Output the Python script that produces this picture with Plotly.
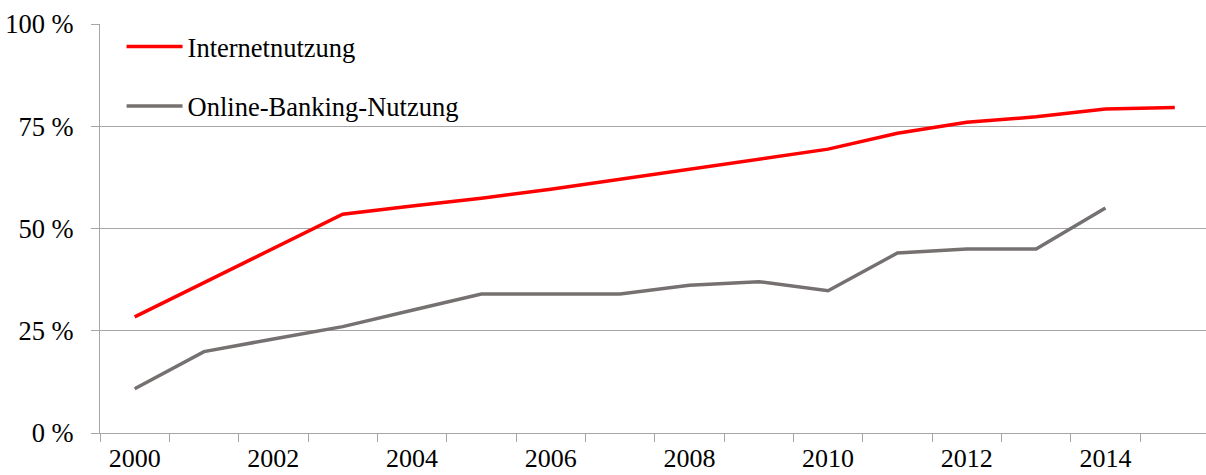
import plotly.graph_objects as go

years = list(range(2000, 2016))
internet = [28.4, 36.8, 45.2, 53.5, 55.5, 57.4, 59.6, 62.0, 64.5, 67.0, 69.4, 73.3, 76.0, 77.3, 79.2, 79.6]
banking_years = list(range(2000, 2015))
banking = [10.8, 19.9, 23.0, 26.0, 30.0, 34.0, 34.0, 34.0, 36.1, 37.0, 34.8, 44.0, 45.0, 45.0, 55.0]

y_ticks = [0, 25, 50, 75, 100]
y_labels = ["0 %", "25 %", "50 %", "75 %", "100 %"]
x_label_years = [2000, 2002, 2004, 2006, 2008, 2010, 2012, 2014]

FONT = "Liberation Serif, Times New Roman, serif"
GRID = "#a6a6a6"
x_range = [1999.5, 2015.45]

fig = go.Figure()
fig.add_trace(go.Scatter(
    x=years, y=internet, mode="lines", name="Internetnutzung",
    line=dict(color="#ff0000", width=3.5), legendgroup="a",
))
fig.add_trace(go.Scatter(
    x=banking_years, y=banking, mode="lines", name="Online-Banking-Nutzung",
    line=dict(color="#767171", width=3.5), legendgroup="b",
))

fig.update_layout(
    width=1206, height=475,
    margin=dict(l=100, r=0, t=24, b=42),
    paper_bgcolor="white", plot_bgcolor="white",
    font=dict(family=FONT, size=26.5, color="black"),
    showlegend=True,
    legend=dict(
        x=0.0195, y=1.003, xanchor="left", yanchor="top",
        bgcolor="rgba(0,0,0,0)", font=dict(size=26.5),
        tracegroupgap=22, itemwidth=56,
    ),
    xaxis=dict(
        range=x_range, automargin=False,
        tickvals=[y + 0.5 for y in range(1999, 2015)],
        ticktext=[""] * 16,
        ticks="outside", ticklen=8, tickcolor=GRID, tickwidth=1,
        showgrid=False, showline=True, linecolor=GRID, linewidth=1,
        zeroline=False,
    ),
    xaxis2=dict(
        range=x_range, overlaying="x", side="bottom", automargin=False,
        tickvals=x_label_years, ticktext=[str(y) for y in x_label_years],
        ticks="", showgrid=False, showline=False, zeroline=False,
        tickfont=dict(size=26), ticklabelstandoff=7,
    ),
    yaxis=dict(
        range=[0, 100], tickvals=y_ticks, ticktext=y_labels, automargin=False,
        ticks="outside", ticklen=8, tickcolor=GRID,
        showgrid=True, gridcolor=GRID, gridwidth=1,
        showline=True, linecolor=GRID, linewidth=1, zeroline=False,
        ticklabelstandoff=12,
    ),
)

# invisible helper trace so the label axis is rendered
fig.add_trace(go.Scatter(x=[2000], y=[0], xaxis="x2", mode="markers",
                         marker=dict(opacity=0), showlegend=False, hoverinfo="skip"))

fig.write_html("out.html")
